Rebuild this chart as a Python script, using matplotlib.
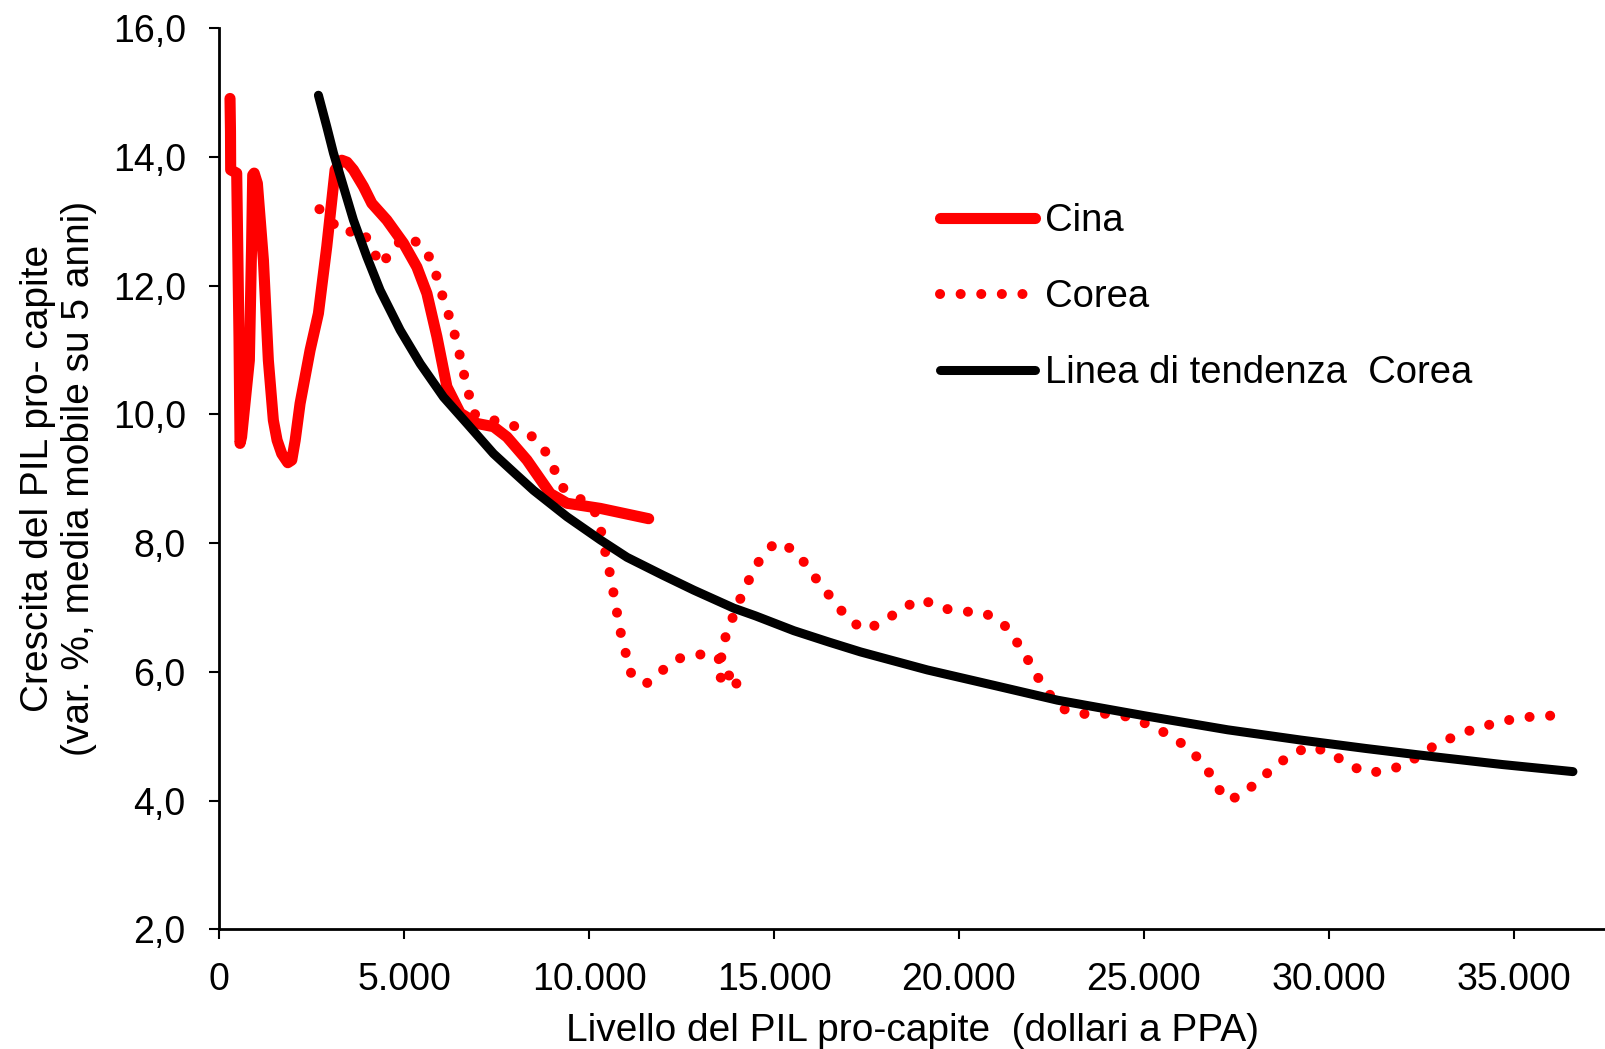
import matplotlib
matplotlib.use("Agg")
import matplotlib.pyplot as plt
from matplotlib.ticker import FuncFormatter, MultipleLocator

plt.rcParams['font.family'] = ['Liberation Sans', 'DejaVu Sans']

# Cina: livello PIL pro-capite (PPA) e crescita media mobile 5 anni
cina_x = [287, 300, 305, 468, 530, 558, 600, 810, 870, 901, 940, 1027, 1190,
          1324, 1459, 1560, 1686, 1850, 1957, 2050, 2182, 2453, 2678, 2904,
          3129, 3310, 3450, 3625, 3896, 4122, 4528, 4978, 5341, 5612, 5882,
          6153, 6513, 6965, 7414, 7777, 8319, 8949, 9401, 10303, 11610]
cina_y = [14.91, 14.40, 13.80, 13.75, 11.20, 9.55, 9.65, 10.84, 12.60, 13.72,
          13.75, 13.59, 12.40, 10.84, 9.91, 9.60, 9.39, 9.25, 9.29, 9.60,
          10.17, 11.00, 11.57, 12.61, 13.80, 13.95, 13.92, 13.80, 13.54, 13.28,
          13.02, 12.66, 12.29, 11.88, 11.21, 10.43, 10.02, 9.86, 9.81, 9.65,
          9.29, 8.77, 8.62, 8.54, 8.38]

# Corea
corea_x = [2705, 3327, 3869, 4122, 4393, 4681, 5098, 5566, 5810, 5972, 6153,
           6333, 6477, 6603, 6738, 6892, 7144, 7777, 8319, 8741, 9022, 9220,
           9650, 10078, 10285, 10393, 10528, 10636, 10737, 10845, 10980, 11134,
           11530, 11973, 12441, 13010, 13506, 13506, 13957, 14003, 13551,
           13687, 13885, 14120, 14363, 14642, 15048, 15554, 15925, 16258,
           16637, 16998, 17458, 17991, 18470, 18992, 19526, 20094, 20679,
           21185, 21537, 21854, 22141, 22466, 22890, 23460, 24046, 24605,
           25165, 25688, 26167, 26590, 26905, 27194, 27600, 28042, 28486,
           28963, 29477, 30046, 30516, 31057, 31626, 32167, 32662, 33177,
           33718, 34287, 34855, 35432, 36020]
corea_y = [13.19, 12.82, 12.87, 12.57, 12.31, 12.60, 12.77, 12.58, 12.27, 11.95,
           11.63, 11.31, 10.98, 10.65, 10.33, 10.01, 9.94, 9.87, 9.73, 9.50,
           9.20, 8.89, 8.72, 8.59, 8.30, 7.97, 7.63, 7.30, 6.97, 6.63, 6.31,
           5.98, 5.81, 6.02, 6.21, 6.27, 6.23, 5.91, 5.91, 5.74, 6.16,
           6.54, 6.85, 7.18, 7.48, 7.77, 8.02, 7.89, 7.62, 7.35,
           7.09, 6.82, 6.65, 6.79, 6.99, 7.13, 6.99, 6.94, 6.92,
           6.76, 6.49, 6.20, 5.91, 5.64, 5.40, 5.34, 5.35, 5.30,
           5.17, 5.02, 4.83, 4.59, 4.31, 4.02, 4.06, 4.28, 4.50,
           4.71, 4.84, 4.75, 4.56, 4.43, 4.47, 4.59, 4.79, 4.94,
           5.07, 5.17, 5.25, 5.30, 5.32]

# Linea di tendenza Corea
trend_x = [2678, 2904, 3085, 3355, 3625, 3987, 4347, 4889, 5430, 6061, 6694,
           7414, 8000, 8497, 9401, 10303, 11025, 12000, 12829, 13911, 14500,
           15535, 16500, 17340, 18500, 19146, 20950, 22666, 25000, 27267,
           29252, 31000, 32861, 34700, 36606]
trend_y = [14.96, 14.47, 14.06, 13.54, 13.02, 12.45, 11.93, 11.31, 10.79, 10.27,
           9.86, 9.39, 9.08, 8.82, 8.41, 8.05, 7.78, 7.50, 7.27, 6.99, 6.87,
           6.64, 6.46, 6.31, 6.13, 6.03, 5.79, 5.56, 5.32, 5.10, 4.94, 4.81,
           4.68, 4.56, 4.45]

W, H = 1606, 1049
fig = plt.figure(figsize=(W / 100, H / 100), dpi=100)
ax = fig.add_axes([219.4 / W, 1 - 929.3 / H, (W - 219.4) / W, (929.3 - 28.3) / H])

ax.plot(corea_x, corea_y, color='#ff0000', lw=7.2, dashes=(0.01, 2.05),
        dash_capstyle='round', solid_joinstyle='round', label='Corea', zorder=2)
ax.plot(cina_x, cina_y, color='#ff0000', lw=8, solid_capstyle='round',
        solid_joinstyle='round', label='Cina', zorder=3)
ax.plot(trend_x, trend_y, color='black', lw=6.5, solid_capstyle='round',
        solid_joinstyle='round', label='Linea di tendenza  Corea', zorder=4)

ax.set_xlim(0, 37500)
ax.set_ylim(2, 16)
ax.xaxis.set_major_locator(MultipleLocator(5000))
ax.yaxis.set_major_locator(MultipleLocator(2))
ax.xaxis.set_major_formatter(FuncFormatter(lambda v, p: f"{int(v):,}".replace(",", ".")))
ax.yaxis.set_major_formatter(FuncFormatter(lambda v, p: f"{v:.1f}".replace(".", ",")))

for s in ['top', 'right']:
    ax.spines[s].set_visible(False)
for s in ['left', 'bottom']:
    ax.spines[s].set_linewidth(2)
ax.tick_params(axis='both', direction='out', length=7.2, width=1.5, labelsize=27)
ax.tick_params(axis='y', pad=17)
ax.tick_params(axis='x', pad=16)

ax.set_xlabel('Livello del PIL pro-capite  (dollari a PPA)', fontsize=28)
ax.xaxis.set_label_coords(0.5, -0.093)
ax.set_ylabel('Crescita del PIL pro- capite\n(var. %, media mobile su 5 anni)',
              fontsize=28, linespacing=1.2)
ax.yaxis.set_label_coords(-0.088, 0.5)

h, l = ax.get_legend_handles_labels()
order = [1, 0, 2]
ax.legend([h[i] for i in order], [l[i] for i in order], loc='upper left',
          bbox_to_anchor=(940 / W, 1 - 203 / H), bbox_transform=fig.transFigure,
          frameon=False, fontsize=27.5, handlelength=2.5, handletextpad=0.25,
          labelspacing=1.05, borderpad=0, borderaxespad=0)

fig.savefig('out.png', dpi=100)
